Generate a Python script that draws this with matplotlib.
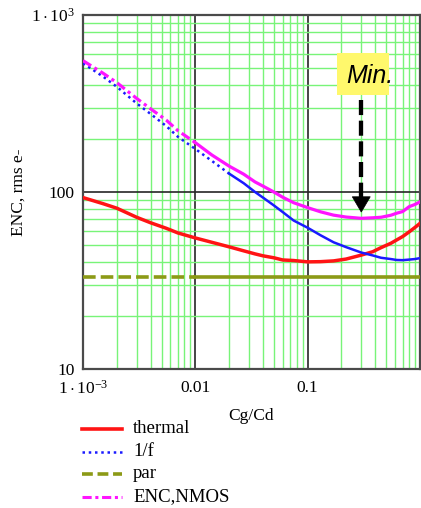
import numpy as np
import matplotlib
matplotlib.use("Agg")
import matplotlib.pyplot as plt
from matplotlib.lines import Line2D
from matplotlib.patches import Rectangle, Polygon
from matplotlib.ticker import LogLocator, NullFormatter

plt.rcParams['font.family'] = ['Liberation Serif', 'DejaVu Serif']
plt.rcParams['mathtext.fontset'] = 'custom'
plt.rcParams['mathtext.rm'] = 'Liberation Serif'
plt.rcParams['mathtext.it'] = 'Liberation Serif:italic'

# Noise contributions versus capacitance ratio Cg/Cd
cg_cd = [0.001, 0.0015, 0.002, 0.003, 0.004, 0.0055, 0.007, 0.01, 0.014,
         0.02, 0.027, 0.034, 0.04, 0.05, 0.06, 0.075, 0.1, 0.13, 0.17,
         0.22, 0.3, 0.38, 0.45, 0.55, 0.62, 0.7, 0.8, 0.9, 1.0]
thermal = [93, 86, 81, 72, 67, 62.4, 58.7, 55, 52,
           49, 46.5, 44.7, 43.6, 42.5, 41.3, 41.0, 40.3, 40.4, 40.8,
           41.8, 44.0, 46.0, 48.5, 51.3, 53.6, 56, 59.5, 63, 66.5]
one_over_f = [534, 450, 393, 317, 276, 236, 205, 175, 150,
              127, 112, 100, 93, 84, 77, 69, 62.8, 57, 52,
              48.8, 45.5, 43.8, 42.5, 41.8, 41.3, 41.2, 41.5, 41.8, 42.3]
parallel = [33, 33, 33, 33, 33, 33, 33, 33, 33,
            33, 33, 33, 33, 33, 33, 33, 33, 33, 33,
            33, 33, 33, 33, 33, 33, 33, 33, 33, 33]
enc_nmos = [552, 470, 415, 338, 295, 255, 222, 190, 162,
            140, 126, 114, 108, 100, 93.4, 87, 81.6, 77.3, 74,
            72.2, 71, 71.5, 72, 73.9, 75.9, 77.5, 82.6, 85, 88]

x_ticks = [1e-3, 1e-2, 1e-1]
x_ticklabels = [r'$1\cdot10^{-3}$', '0.01', '0.1']
y_ticks = [10, 100, 1000]
y_ticklabels = ['10', '100', r'$1\cdot10^{3}$']

W, H = 421, 508
fig = plt.figure(figsize=(W / 100, H / 100), dpi=100)
ax = fig.add_axes([83 / W, 1 - 369 / H, 337 / W, 354 / H])
ax.set_xscale('log')
ax.set_yscale('log')
ax.set_xlim(1e-3, 1.0)
ax.set_ylim(10, 1000)

x = np.array(cg_cd)

def split_plot(values, brk, color, lw, pattern, zorder):
    """Patterned where points are sparse on screen, solid where they crowd."""
    v = np.array(values)
    left = x <= brk
    right = x >= brk
    ax.plot(x[left], v[left], color=color, lw=lw, linestyle=pattern,
            zorder=zorder, solid_capstyle='butt', dash_capstyle='butt')
    ax.plot(x[right], v[right], color=color, lw=lw, linestyle='-',
            zorder=zorder, solid_joinstyle='round')

ax.plot(x, thermal, color='#ff1414', lw=2.5, zorder=4, solid_joinstyle='round')
split_plot(one_over_f, 0.02, '#1a1aff', 1.8, (0, (1, 1.5)), 4)
split_plot(parallel, 0.01, '#8c9a16', 2.6, (0, (3.5, 1.4)), 4)
split_plot(enc_nmos, 0.01, '#ff14ff', 2.3, (0, (3, 1.2, 1, 1.2)), 5)

# grid: green minors, dark decade lines
ax.xaxis.set_minor_locator(LogLocator(base=10, subs=np.arange(2, 10)))
ax.yaxis.set_minor_locator(LogLocator(base=10, subs=np.arange(2, 10)))
ax.xaxis.set_minor_formatter(NullFormatter())
ax.yaxis.set_minor_formatter(NullFormatter())
ax.grid(which='minor', color='#78f478', lw=1.0, zorder=1)
ax.grid(which='major', color='#262626', lw=1.2, zorder=2)
ax.set_axisbelow(True)

ax.set_xticks(x_ticks)
ax.set_xticklabels(x_ticklabels)
ax.set_yticks(y_ticks)
ax.set_yticklabels(y_ticklabels)
ax.tick_params(which='both', length=0, labelsize=12.5)
ax.tick_params(axis='x', pad=8)
ax.tick_params(axis='y', pad=6)
for s in ax.spines.values():
    s.set_color('#4a4a4a')
    s.set_linewidth(1.6)

ax.set_xlabel('Cg/Cd', fontsize=12.5, labelpad=7)
ax.set_ylabel('ENC, rms e-', fontsize=12.5)
ax.yaxis.set_label_coords(-0.166, 0.5)

# "Min." callout with a dashed arrow down to the ENC minimum
i_min = int(np.argmin(enc_nmos))
x_min = cg_cd[i_min]
ax.add_patch(Rectangle((0.181, 353), 0.525 - 0.181, 610 - 353,
                       facecolor='#fff86c', edgecolor='none', zorder=6))
ax.text(0.222, 411, 'Min.', fontsize=18, style='italic',
        family=['Liberation Sans', 'DejaVu Sans'], ha='left',
        va='baseline', zorder=7, clip_on=False)
tip = enc_nmos[i_min] * 1.085
base = tip * 1.22
ax.plot([x_min, x_min], [331, base], color='black', lw=3.1,
        linestyle=(0, (3.5, 1.3)), dash_capstyle='butt', zorder=7)
hw = 10 ** (9 / 112.5)
ax.add_patch(Polygon([[x_min / hw, base], [x_min * hw, base], [x_min, tip]],
                     closed=True, facecolor='black', edgecolor='black',
                     lw=0.5, zorder=7))

# legend drawn below the axes
legend_rows = [
    ('thermal', '#ff1414', 2.6, '-', 433),
    ('1/f', '#1a1aff', 1.8, (0, (1, 1.5)), 456),
    ('par', '#8c9a16', 2.6, (0, (3.0, 1.3)), 478),
    ('ENC,NMOS', '#ff14ff', 2.2, (0, (3, 1.2, 1, 1.2)), 501),
]
for label, color, lw, ls, yb in legend_rows:
    yl = 1 - (yb - 4) / H
    fig.add_artist(Line2D([82 / W, 122 / W], [yl, yl], transform=fig.transFigure,
                          color=color, lw=lw, linestyle=ls))
    fig.text(133 / W, 1 - yb / H, label, fontsize=13.5, va='baseline', ha='left')

fig.savefig('out.png', dpi=100)
